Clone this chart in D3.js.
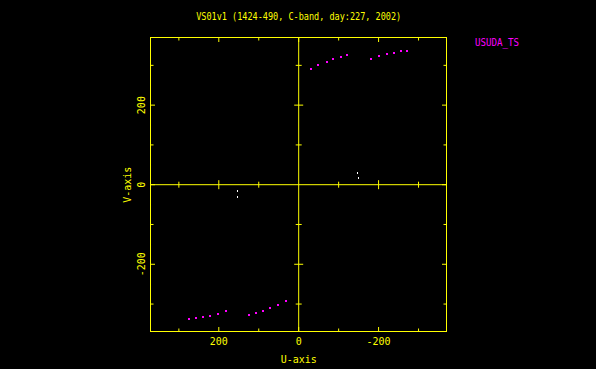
<!DOCTYPE html>
<html>
<head>
<meta charset="utf-8">
<script src="https://cdn.jsdelivr.net/npm/d3@7"></script>
<style>
  body { margin: 0; background: #000; }
  text { font-family: "DejaVu Sans Mono", monospace; }
</style>
</head>
<body>
<div id="chart"></div>
<script>

// baselines (U, V in kilo-lambda)
var baseU = [-30, -49, -70, -87, -105, -122, -180, -200, -220, -238, -255, -271,
             274, 258, 240, 222, 202, 181, 125, 106, 89, 71, 51, 33];
var baseV = [291, 302, 309, 317, 322, 326, 316, 323, 329, 332, 335, 336,
             -337, -336, -332, -330, -325, -317, -327, -322, -317, -311, -302, -292];

// the few white points near the middle
var otherU = [152, 151, -149, -150];
var otherV = [-16, -30, 30, 17];

var majorTicks = [200, 0, -200];
var minorTicks = [300, 100, -100, -300];

var title = "VS01v1 (1424-490, C-band, day:227, 2002)";
var stationName = "USUDA_TS";

var W = 596, H = 369;
var margin = {top: 37, right: 150, bottom: 38, left: 150};

var x = d3.scaleLinear().domain([371, -370]).range([margin.left + 0.5, W - margin.right + 0.5]);
var y = d3.scaleLinear().domain([-369, 370]).range([H - margin.bottom + 0.5, margin.top + 0.5]);

var yellow = "#ffff00", magenta = "#ff00ff";

var svg = d3.select("#chart").append("svg")
    .attr("width", W)
    .attr("height", H)
    .style("background", "#000");

// frame
svg.append("rect")
    .attr("x", x.range()[0]).attr("y", y.range()[1])
    .attr("width", x.range()[1] - x.range()[0])
    .attr("height", y.range()[0] - y.range()[1])
    .attr("fill", "none").attr("stroke", yellow).attr("stroke-width", 1);

// zero lines
svg.append("line")
    .attr("x1", x.range()[0]).attr("x2", x.range()[1])
    .attr("y1", y(0)).attr("y2", y(0))
    .attr("stroke", yellow);
svg.append("line")
    .attr("x1", x(0)).attr("x2", x(0))
    .attr("y1", y.range()[0]).attr("y2", y.range()[1])
    .attr("stroke", yellow);

// inward ticks on all four sides
var allTicks = majorTicks.map(function(d) { return {v: d, len: 4.5}; })
  .concat(minorTicks.map(function(d) { return {v: d, len: 3}; }));

var tickG = svg.append("g").attr("stroke", yellow).attr("stroke-width", 1);

function sideTicks(isX, y0, dir) {
  tickG.selectAll(null).data(allTicks).enter().append("line")
    .attr("x1", function(d) { return isX ? x(d.v) : y0; })
    .attr("x2", function(d) { return isX ? x(d.v) : y0 + dir * d.len; })
    .attr("y1", function(d) { return isX ? y0 : y(d.v); })
    .attr("y2", function(d) { return isX ? y0 + dir * d.len : y(d.v); });
}
sideTicks(true, y.range()[0], -1);   // bottom
sideTicks(true, y.range()[1], 1);    // top
sideTicks(false, x.range()[0], 1);   // left
sideTicks(false, x.range()[1], -1);  // right

// crossing ticks on the zero lines
tickG.selectAll(null).data(allTicks.filter(function(d) { return d.v != 0; })).enter().append("line")
  .attr("x1", function(d) { return x(d.v); }).attr("x2", function(d) { return x(d.v); })
  .attr("y1", function(d) { return y(0) - d.len; }).attr("y2", function(d) { return y(0) + d.len; });
tickG.selectAll(null).data(allTicks.filter(function(d) { return d.v != 0; })).enter().append("line")
  .attr("y1", function(d) { return y(d.v); }).attr("y2", function(d) { return y(d.v); })
  .attr("x1", function(d) { return x(0) - d.len; }).attr("x2", function(d) { return x(0) + d.len; });

// tick labels
svg.selectAll(null).data(majorTicks).enter().append("text")
    .attr("x", function(d) { return x(d); })
    .attr("y", y.range()[0] + 13)
    .attr("text-anchor", "middle")
    .attr("fill", yellow).attr("font-size", 10)
    .text(function(d) { return d; });

svg.selectAll(null).data(majorTicks).enter().append("text")
    .attr("transform", function(d) { return "translate(" + (x.range()[0] - 5.5) + "," + y(d) + ") rotate(-90)"; })
    .attr("text-anchor", "middle")
    .attr("fill", yellow).attr("font-size", 10)
    .text(function(d) { return d; });

// axis titles
svg.append("text")
    .attr("x", x(0)).attr("y", H - 6)
    .attr("text-anchor", "middle")
    .attr("fill", yellow).attr("font-size", 10)
    .text("U-axis");

svg.append("text")
    .attr("transform", "translate(" + (x.range()[0] - 20) + "," + y(0) + ") rotate(-90)")
    .attr("text-anchor", "middle")
    .attr("fill", yellow).attr("font-size", 10)
    .text("V-axis");

// title
svg.append("text")
    .attr("x", x(0)).attr("y", 20)
    .attr("text-anchor", "middle")
    .attr("fill", yellow).attr("font-size", 10)
    .attr("textLength", 205).attr("lengthAdjust", "spacingAndGlyphs")
    .text(title);

svg.append("text")
    .attr("x", 475).attr("y", 45.5)
    .attr("fill", magenta).attr("font-size", 10)
    .attr("textLength", 44).attr("lengthAdjust", "spacingAndGlyphs")
    .text(stationName);

// data points
svg.selectAll(null).data(d3.range(baseU.length)).enter().append("rect")
    .attr("x", function(i) { return Math.round(x(baseU[i])) - 1; })
    .attr("y", function(i) { return Math.round(y(baseV[i])) - 1; })
    .attr("width", 2).attr("height", 2)
    .attr("fill", magenta);

svg.selectAll(null).data(d3.range(otherU.length)).enter().append("rect")
    .attr("x", function(i) { return Math.round(x(otherU[i])) - 1; })
    .attr("y", function(i) { return Math.round(y(otherV[i])) - 1; })
    .attr("width", 1).attr("height", 2)
    .attr("fill", "#fff");

</script>
</body>
</html>
